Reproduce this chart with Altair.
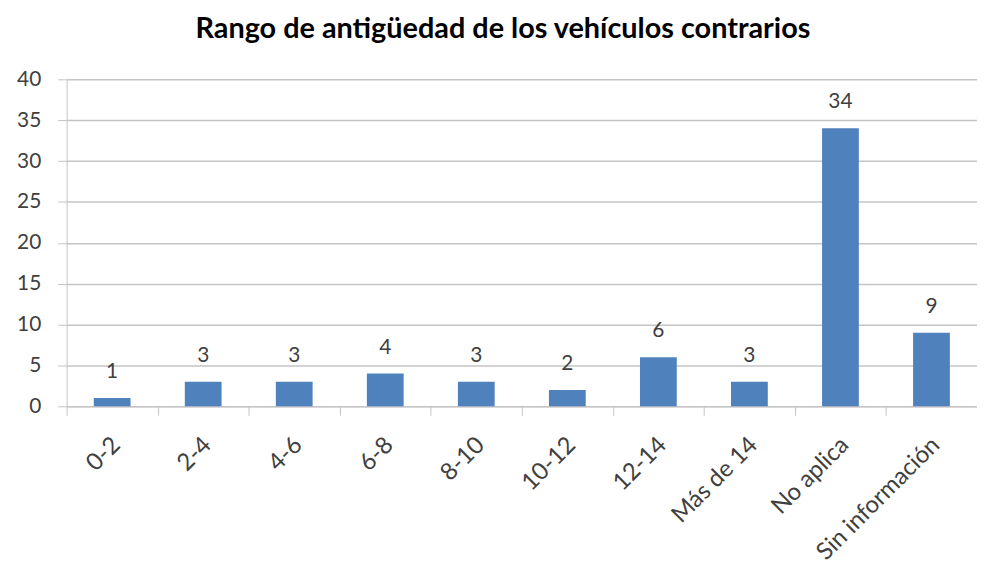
import altair as alt
import pandas as pd

categories = ["0-2", "2-4", "4-6", "6-8", "8-10", "10-12", "12-14", "Más de 14", "No aplica", "Sin información"]
values = [1, 3, 3, 4, 3, 2, 6, 3, 34, 9]
y_ticks = [0, 5, 10, 15, 20, 25, 30, 35, 40]

df = pd.DataFrame({"cat": categories, "val": values})

FONT = "Lato"
TXT = "#404040"
GRID = "#c4c4c4"

x = alt.X("cat:N", sort=categories, title=None,
          scale=alt.Scale(paddingInner=0, paddingOuter=0),
          axis=alt.Axis(labelAngle=-45, labelAlign="right", labelBaseline="middle",
                        labelFont=FONT, labelFontSize=24, labelColor=TXT,
                        labelPadding=26, tickBand="extent", tickSize=9,
                        tickColor=GRID, domainColor=GRID, labelOffset=4))
y = alt.Y("val:Q", title=None,
          scale=alt.Scale(domain=[0, 40], nice=False),
          axis=alt.Axis(values=y_ticks, labelFont=FONT, labelFontSize=21, labelColor=TXT,
                        tickSize=9, tickColor=GRID, domainColor=GRID, gridColor=GRID,
                        labelPadding=17, grid=True))

base = alt.Chart(df).encode(x=x, y=y)
bars = base.mark_bar(color="#4F81BD", size=37)
labels = base.mark_text(dy=-20, baseline="alphabetic", font=FONT, fontSize=21, color=TXT).encode(text="val:Q")

chart = (bars + labels).properties(
    width=916, height=329,
    title=alt.TitleParams("Rango de antigüedad de los vehículos contrarios",
                          font=FONT, fontSize=29, fontWeight="bold", color="#000000",
                          anchor="middle", dx=-19, offset=25),
    autosize=alt.AutoSizeParams(type="none"),
    padding={"left": 59, "top": 70, "right": 0, "bottom": 165},
).configure_view(stroke=None).configure_axis(gridWidth=1.5)

chart.save("out.html", embed_options={"renderer": "svg", "actions": False})
